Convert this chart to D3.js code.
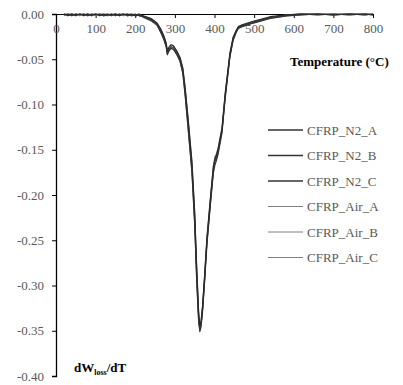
<!DOCTYPE html>
<html>
<head>
<meta charset="utf-8">
<script src="https://cdn.jsdelivr.net/npm/d3@7"></script>
<style>body{margin:0} svg{display:block;}</style>
</head>
<body>
<div id="viz"></div>
<script>
const temps = [20, 30, 40, 50, 60, 70, 80, 90, 100, 110, 120, 130, 140, 150, 160, 170, 180, 190, 200, 210, 220, 240, 255, 265, 272, 278, 281, 285, 290, 296, 305, 313, 320, 326, 333, 343, 350, 355, 360, 363, 366, 370, 375, 381, 390, 397, 401, 404, 409, 419, 427, 439, 447, 455, 460, 470, 498, 540, 583, 620, 660, 700, 740, 780, 800];

const n2A = [0.000, -0.001, 0.000, -0.002, 0.000, -0.001, 0.000, -0.002, 0.000, -0.001, -0.001, 0.000, -0.002, 0.000, -0.001, 0.000, -0.002, -0.001, 0.000, -0.002, -0.003, -0.006, -0.011, -0.019, -0.026, -0.034, -0.043, -0.039, -0.036, -0.037, -0.043, -0.050, -0.062, -0.085, -0.118, -0.168, -0.225, -0.285, -0.335, -0.348, -0.343, -0.325, -0.292, -0.250, -0.205, -0.172, -0.163, -0.160, -0.152, -0.128, -0.090, -0.045, -0.027, -0.019, -0.015, -0.013, -0.009, -0.004, -0.001, 0.000, -0.001, 0.000, -0.001, 0.000, -0.001];
const n2B = [-0.001, 0.000, -0.002, 0.000, -0.001, 0.000, -0.002, 0.000, -0.001, 0.000, -0.002, -0.001, 0.000, -0.002, 0.000, -0.001, 0.000, -0.002, -0.001, 0.000, -0.003, -0.007, -0.012, -0.021, -0.028, -0.036, -0.045, -0.041, -0.038, -0.039, -0.045, -0.052, -0.065, -0.090, -0.124, -0.174, -0.232, -0.293, -0.340, -0.351, -0.346, -0.328, -0.296, -0.254, -0.209, -0.176, -0.167, -0.163, -0.155, -0.131, -0.093, -0.047, -0.029, -0.020, -0.016, -0.014, -0.010, -0.005, -0.002, -0.001, 0.000, -0.001, 0.000, -0.001, 0.000];
const n2C = [0.000, -0.002, 0.000, -0.001, 0.000, -0.002, 0.000, -0.001, 0.000, -0.002, 0.000, -0.001, -0.001, 0.000, -0.002, 0.000, -0.001, 0.000, -0.002, -0.001, -0.002, -0.005, -0.010, -0.017, -0.024, -0.032, -0.041, -0.037, -0.034, -0.035, -0.041, -0.048, -0.060, -0.082, -0.114, -0.163, -0.219, -0.279, -0.330, -0.344, -0.340, -0.322, -0.289, -0.247, -0.202, -0.169, -0.160, -0.157, -0.149, -0.126, -0.088, -0.043, -0.026, -0.018, -0.014, -0.012, -0.008, -0.003, -0.001, 0.000, 0.000, -0.001, 0.000, 0.000, -0.001];
const airA = [-0.002, 0.000, -0.001, 0.000, -0.002, 0.000, -0.001, 0.000, -0.002, 0.000, -0.001, -0.002, 0.000, -0.001, 0.000, -0.002, 0.000, -0.001, -0.001, -0.002, -0.003, -0.007, -0.012, -0.020, -0.027, -0.035, -0.043, -0.040, -0.037, -0.038, -0.044, -0.051, -0.064, -0.088, -0.122, -0.172, -0.229, -0.289, -0.336, -0.347, -0.343, -0.326, -0.294, -0.252, -0.207, -0.174, -0.158, -0.156, -0.151, -0.128, -0.091, -0.046, -0.028, -0.019, -0.015, -0.013, -0.009, -0.004, -0.001, 0.000, -0.001, 0.000, 0.000, -0.001, 0.000];
const airB = [0.000, -0.001, -0.002, 0.000, -0.001, 0.000, -0.002, -0.001, 0.000, -0.001, -0.002, 0.000, -0.001, 0.000, -0.002, -0.001, 0.000, -0.001, -0.002, 0.000, -0.004, -0.008, -0.013, -0.021, -0.028, -0.036, -0.044, -0.041, -0.038, -0.039, -0.045, -0.053, -0.066, -0.091, -0.126, -0.176, -0.234, -0.295, -0.341, -0.349, -0.344, -0.327, -0.295, -0.253, -0.208, -0.175, -0.161, -0.158, -0.153, -0.130, -0.092, -0.047, -0.029, -0.020, -0.016, -0.014, -0.010, -0.005, -0.002, -0.001, 0.000, 0.000, -0.001, 0.000, 0.000];
const airC = [-0.001, 0.000, 0.000, -0.002, 0.000, -0.001, 0.000, -0.002, -0.001, 0.000, 0.000, -0.002, 0.000, -0.001, -0.001, 0.000, -0.002, 0.000, -0.001, -0.001, -0.002, -0.005, -0.010, -0.017, -0.024, -0.032, -0.040, -0.036, -0.034, -0.035, -0.041, -0.048, -0.059, -0.081, -0.113, -0.162, -0.218, -0.277, -0.328, -0.342, -0.339, -0.321, -0.288, -0.246, -0.201, -0.168, -0.157, -0.155, -0.148, -0.125, -0.087, -0.043, -0.025, -0.018, -0.014, -0.012, -0.008, -0.004, -0.001, 0.000, 0.000, -0.001, 0.000, -0.001, 0.000];

const seriesNames = ["CFRP_N2_A", "CFRP_N2_B", "CFRP_N2_C", "CFRP_Air_A", "CFRP_Air_B", "CFRP_Air_C"];
const seriesValues = [n2A, n2B, n2C, airA, airB, airC];
const seriesColors = ["#3a3a3a", "#333333", "#2a2a2a", "#8a8a8a", "#7f7f7f", "#959595"];
const seriesWidths = [1.2, 1.2, 1.2, 1, 1, 1];

const xTicks = [0, 100, 200, 300, 400, 500, 600, 700, 800];
const yTicks = [0, -0.05, -0.10, -0.15, -0.20, -0.25, -0.30, -0.35, -0.40];
const yLabels = ["0.00", "-0.05", "-0.10", "-0.15", "-0.20", "-0.25", "-0.30", "-0.35", "-0.40"];

const W = 403, H = 385;
const margin = {top: 14, right: 30, bottom: 9, left: 56};
const fontName = "Liberation Serif";

const svg = d3.select("#viz")
  .append("svg")
    .attr("width", W)
    .attr("height", H);

function serifText(sel, size) {
  sel.attr("font-family", fontName)
    .attr("font-size", size)
    .style("font-family", `'${fontName}'`)
    .style("font-size", size + "px");
}

const x = d3.scaleLinear()
  .domain([0, 800])
  .range([margin.left, W - margin.right]);

const y = d3.scaleLinear()
  .domain([-0.40, 0])
  .range([H - margin.bottom, margin.top]);

// y axis
const yAxis = svg.append("g")
  .attr("transform", `translate(${margin.left},0)`)
  .call(d3.axisLeft(y).tickValues(yTicks).tickSize(4).tickPadding(8)
    .tickFormat((d, i) => yLabels[i]));
yAxis.select(".domain").attr("stroke", "#000").attr("stroke-width", 1.3);
yAxis.selectAll(".tick line").attr("stroke", "#000");
yAxis.selectAll(".tick text").attr("fill", "#595959").call(serifText, 13);

// x axis along the zero line, ticks pointing down
const xAxis = svg.append("g")
  .attr("transform", `translate(0,${y(0)})`)
  .call(d3.axisBottom(x).tickValues(xTicks).tickSizeInner(4).tickSizeOuter(0).tickPadding(6));
xAxis.select(".domain").attr("stroke", "#000").attr("stroke-width", 1);
xAxis.selectAll(".tick line").attr("stroke", "#000");
xAxis.selectAll(".tick text").attr("fill", "#595959").call(serifText, 13);

const line = d3.line()
  .x((d, i) => x(temps[i]))
  .y(d => y(d));

// draw Air first, N2 on top
[3, 4, 5, 0, 1, 2].forEach(k => {
  svg.append("path")
    .datum(seriesValues[k])
    .attr("fill", "none")
    .attr("stroke", seriesColors[k])
    .attr("stroke-width", seriesWidths[k])
    .attr("stroke-linejoin", "round")
    .attr("d", line);
});

// legend
const legend = svg.append("g").attr("transform", "translate(268,130)");
seriesNames.forEach((name, i) => {
  legend.append("line")
    .attr("x1", 0).attr("x2", 35)
    .attr("y1", i * 25.5).attr("y2", i * 25.5)
    .attr("stroke", i < 3 ? "#333" : "#808080")
    .attr("stroke-width", i < 3 ? 1.5 : 1);
  legend.append("text")
    .attr("x", 39)
    .attr("y", i * 25.5 + 4.5)
    .attr("fill", "#595959")
    .call(serifText, 13)
    .text(name);
});

// axis titles
svg.append("text")
  .attr("x", 290)
  .attr("y", 66)
  .call(serifText, 13)
  .style("font-weight", "bold")
  .attr("fill", "#000")
  .text("Temperature (°C)");

const yTitle = svg.append("text")
  .attr("x", 74)
  .attr("y", 372)
  .call(serifText, 13)
  .style("font-weight", "bold")
  .attr("fill", "#000");
yTitle.append("tspan").text("dW");
yTitle.append("tspan").attr("dy", 3).style("font-size", "8px").text("loss");
yTitle.append("tspan").attr("dy", -3).text("/dT");
</script>
</body>
</html>
